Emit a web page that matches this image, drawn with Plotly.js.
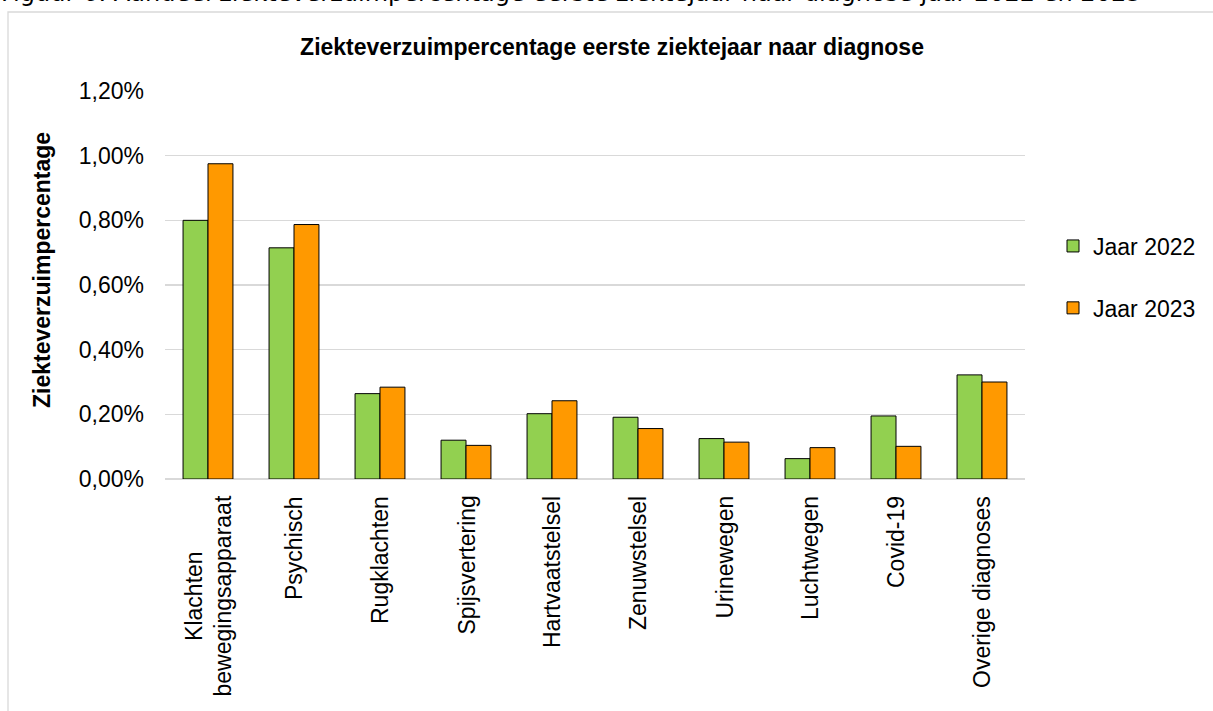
<!DOCTYPE html>
<html>
<head>
<meta charset="utf-8">
<script src="https://cdn.plot.ly/plotly-3.0.1.min.js"></script>
<style>
  html, body { margin: 0; padding: 0; background: #fff; }
  #chart { width: 1213px; height: 711px; }
</style>
</head>
<body>
<div id="chart"></div>
<script>
// ---- data ----
const categories = [
  "Klachten<br>bewegingsapparaat", "Psychisch", "Rugklachten", "Spijsvertering",
  "Hartvaatstelsel", "Zenuwstelsel", "Urinewegen", "Luchtwegen", "Covid-19", "Overige diagnoses"
];
const seriesNames = ["Jaar 2022", "Jaar 2023"];
const values2022 = [0.80, 0.715, 0.264, 0.120, 0.202, 0.191, 0.125, 0.063, 0.195, 0.322];
const values2023 = [0.975, 0.787, 0.284, 0.104, 0.242, 0.156, 0.114, 0.097, 0.101, 0.300];
const yTickVals = [0, 0.2, 0.4, 0.6, 0.8, 1.0, 1.2];
const yTickLabels = ["0,00%", "0,20%", "0,40%", "0,60%", "0,80%", "1,00%", "1,20%"];

const chartTitle = "Ziekteverzuimpercentage eerste ziektejaar naar diagnose";
const yTitle = "Ziekteverzuimpercentage";
const caption = "Figuur 6: Aandeel ziekteverzuimpercentage eerste ziektejaar naar diagnose jaar 2022 en 2023";

// ---- layout helpers (pixel -> paper) ----
const W = 1213, H = 711, PL = 165, PR = 1025, PT = 91, PB = 479;
const px = x => (x - PL) / (PR - PL);
const py = y => (PB - y) / (PB - PT);

const FONT = "Liberation Sans, Arial, sans-serif";
const FS = 23;

const traces = [
  {
    type: "bar", name: seriesNames[0], x: categories, y: values2022,
    marker: { color: "#92D050", line: { color: "#000000", width: 1 } },
    legendgroup: "a"
  },
  {
    type: "bar", name: seriesNames[1], x: categories, y: values2023,
    marker: { color: "#FF9900", line: { color: "#000000", width: 1 } },
    legendgroup: "b"
  }
];

const labelAnnotations = categories.map(c => ({
  x: c, xref: "x", y: 0, yref: "y",
  text: c, textangle: -90, showarrow: false,
  xanchor: "center", yanchor: "top", align: "center", yshift: -15,
  font: { family: FONT, size: FS, color: "#000" }
}));

const layout = {
  width: W, height: H,
  margin: { l: PL, r: W - PR, t: PT, b: H - PB, pad: 0 },
  paper_bgcolor: "#ffffff", plot_bgcolor: "#ffffff",
  barmode: "group", bargap: 0.42, bargroupgap: 0,
  showlegend: true,
  legend: {
    x: px(1053), xanchor: "left", y: py(277), yanchor: "middle",
    traceorder: "grouped", tracegroupgap: 29,
    font: { family: FONT, size: FS, color: "#000" },
    bgcolor: "rgba(0,0,0,0)"
  },
  title: {
    text: "<b>" + chartTitle + "</b>",
    xref: "paper", x: px(612), xanchor: "center",
    yref: "container", y: 1 - 47 / H, yanchor: "middle",
    font: { family: FONT, size: FS, color: "#000" }
  },
  xaxis: {
    type: "category", showticklabels: false, ticks: "",
    showgrid: false, showline: false, zeroline: false
  },
  yaxis: {
    range: [0, 1.2], tickmode: "array", tickvals: yTickVals, ticktext: yTickLabels,
    showgrid: true, gridcolor: "#d9d9d9", gridwidth: 1.3,
    zeroline: true, zerolinecolor: "#d9d9d9", zerolinewidth: 1.3,
    showline: false, ticks: "", ticklabelstandoff: 20,
    tickfont: { family: FONT, size: FS, color: "#000" }
  },
  shapes: [
    {
      type: "rect", xref: "paper", yref: "paper",
      x0: px(8), x1: px(1240), y0: py(12), y1: py(760),
      line: { color: "#d9d9d9", width: 1.3 }, fillcolor: "rgba(0,0,0,0)", layer: "below"
    }
  ],
  annotations: [
    {
      xref: "paper", yref: "paper", x: px(42), y: py(270),
      text: "<b>" + yTitle + "</b>", textangle: -90, showarrow: false,
      xanchor: "center", yanchor: "middle",
      font: { family: FONT, size: FS, color: "#000" }
    },
    {
      xref: "paper", yref: "paper", x: px(-1), y: py(9),
      text: caption, showarrow: false, xanchor: "left", yanchor: "bottom",
      font: { family: "DejaVu Sans, sans-serif", size: 24, color: "#000" }
    }
  ].concat(labelAnnotations)
};

Plotly.newPlot("chart", traces, layout, { displayModeBar: false, staticPlot: true });
</script>
</body>
</html>
